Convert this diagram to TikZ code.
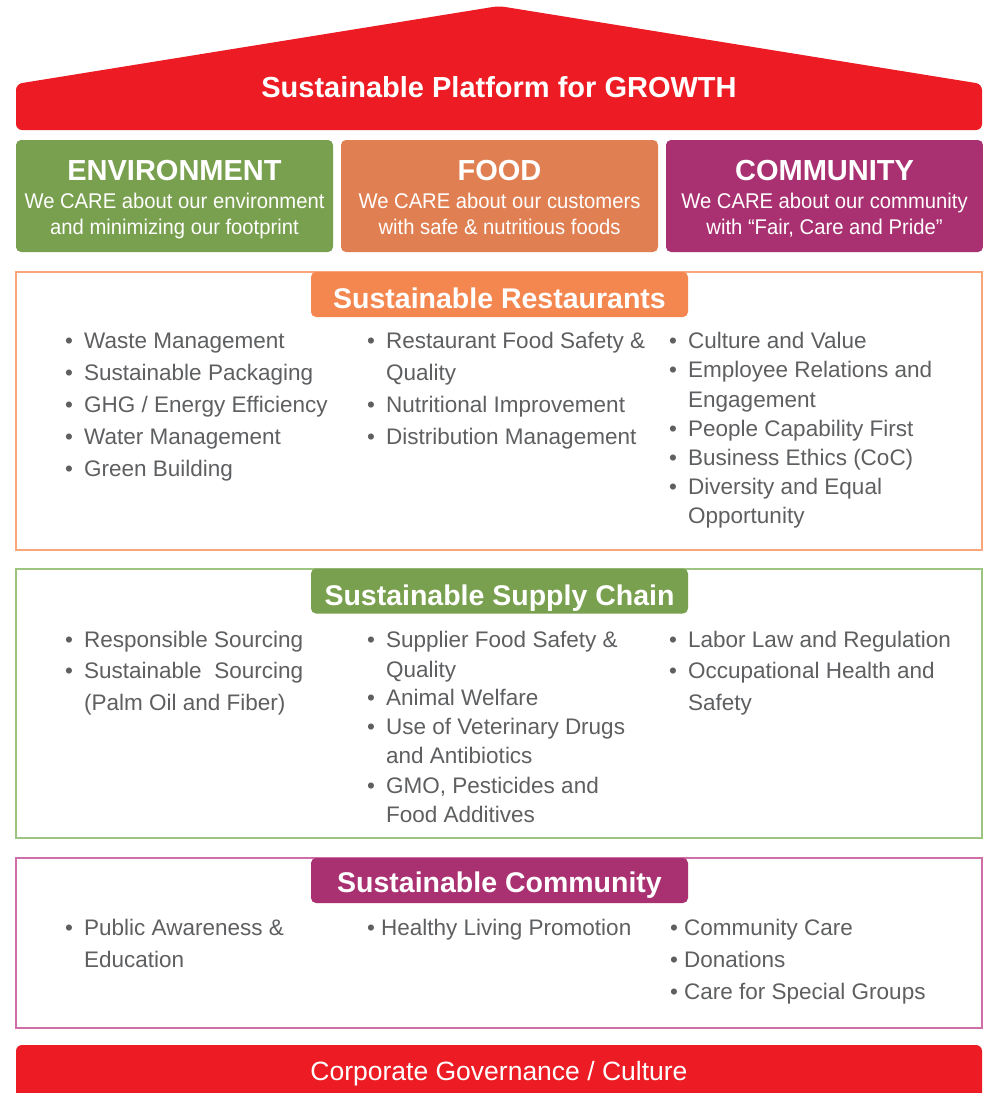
\documentclass[tikz,border=0pt]{standalone}
\usepackage{fontspec}
\setmainfont{Liberation Sans}
\newfontfamily\subfont[FakeStretch=0.95]{Liberation Sans}
\definecolor{cred}{HTML}{ED1C24}
\definecolor{cgreen}{HTML}{79A04F}
\definecolor{cfood}{HTML}{E07F52}
\definecolor{cpurple}{HTML}{AA3171}
\definecolor{ctabor}{HTML}{F4874F}
\definecolor{cbordor}{HTML}{F9A77A}
\definecolor{cbordgr}{HTML}{9EC482}
\definecolor{cbordpu}{HTML}{CF6FA8}
\definecolor{cgreytxt}{HTML}{5E5F61}
\newcommand\mkbul[5]{\node[itemtxt] (#1) at (#2,#3) {\makebox[#4][l]{\textbullet}#5};}
\newcommand\mkcont[4]{\node[itemtxt] (#1) at (#2,#3) {#4};}
\begin{document}
\begin{tikzpicture}[x=1pt,y=-1pt,
  itemtxt/.style={anchor=base west,inner sep=0pt,text=cgreytxt,font=\fontsize{22.5}{27}\selectfont},
  catbox/.style={rectangle,rounded corners=5pt,minimum width=317pt,minimum height=112pt,inner sep=0pt},
  cattitle/.style={anchor=base,inner sep=0pt,text=white,font=\fontsize{29}{34}\selectfont\bfseries},
  catsub/.style={anchor=base,inner sep=0pt,text=white,font=\subfont\fontsize{21.3}{25}\selectfont},
  secbox/.style={rectangle,line width=1.2pt,minimum width=966pt,inner sep=0pt,fill=white},
  tabbox/.style={rectangle,rounded corners=5pt,minimum width=377pt,minimum height=45pt,inner sep=0pt},
  tabtxt/.style={anchor=base,inner sep=0pt,text=white,font=\fontsize{28.5}{33}\selectfont\bfseries}]
\useasboundingbox (0,0) rectangle (983,1093);
\fill[white] (0,0) rectangle (983,1093);
% roof
\fill[cred,rounded corners=6pt] (16,130) -- (16,84) -- (499,6) -- (982,84) -- (982,130) -- cycle;
\node[anchor=base,inner sep=0pt,text=white,font=\fontsize{29}{34}\selectfont\bfseries] (roof) at (499,97) {Sustainable Platform for GROWTH};
% category boxes
\node[catbox,fill=cgreen] (env) at (174.5,196) {};
\node[catbox,fill=cfood] (food) at (499.5,196) {};
\node[catbox,fill=cpurple] (comm) at (824.5,196) {};
\node[cattitle] (envT) at (174.5,180) {ENVIRONMENT};
\node[catsub] (envS1) at (174.5,208) {We CARE about our environment};
\node[catsub] (envS2) at (174.5,234) {and minimizing our footprint};
\node[cattitle] (foodT) at (499.5,180) {FOOD};
\node[catsub] (foodS1) at (499.5,208) {We CARE about our customers};
\node[catsub] (foodS2) at (499.5,234) {with safe \& nutritious foods};
\node[cattitle] (commT) at (824.5,180) {COMMUNITY};
\node[catsub] (commS1) at (824.5,208) {We CARE about our community};
\node[catsub] (commS2) at (824.5,234) {with “Fair, Care and Pride”};
% section boxes
\node[secbox,draw=cbordor,minimum height=278pt] (rbox) at (499,411) {};
\node[secbox,draw=cbordgr,minimum height=269pt] (sbox) at (499,703.5) {};
\node[secbox,draw=cbordpu,minimum height=170pt] (cbox) at (499,943) {};
\node[tabbox,fill=ctabor] (rtab) at (499.5,294.5) {};
\node[tabtxt] (rtabT) at (499.5,308) {Sustainable Restaurants};
\node[tabbox,fill=cgreen] (stab) at (499.5,591) {};
\node[tabtxt] (stabT) at (499.5,605) {Sustainable Supply Chain};
\node[tabbox,fill=cpurple] (ctab) at (499.5,880.5) {};
\node[tabtxt] (ctabT) at (499.5,892) {Sustainable Community};
% restaurants items
\mkbul{ra1}{65}{348}{19pt}{Waste Management}
\mkbul{ra2}{65}{380}{19pt}{Sustainable Packaging}
\mkbul{ra3}{65}{412}{19pt}{GHG / Energy Efficiency}
\mkbul{ra4}{65}{444}{19pt}{Water Management}
\mkbul{ra5}{65}{476}{19pt}{Green Building}
\mkbul{rb1}{367}{348}{19pt}{Restaurant Food Safety \&}
\mkcont{rb1c}{386}{380}{Quality}
\mkbul{rb2}{367}{412}{19pt}{Nutritional Improvement}
\mkbul{rb3}{367}{444}{19pt}{Distribution Management}
\mkbul{rc1}{669}{348}{19pt}{Culture and Value}
\mkbul{rc2}{669}{377}{19pt}{Employee Relations and}
\mkcont{rc2c}{688}{407}{Engagement}
\mkbul{rc3}{669}{436}{19pt}{People Capability First}
\mkbul{rc4}{669}{465}{19pt}{Business Ethics (CoC)}
\mkbul{rc5}{669}{494}{19pt}{Diversity and Equal}
\mkcont{rc5c}{688}{523}{Opportunity}
% supply chain items
\mkbul{sa1}{65}{647}{19pt}{Responsible Sourcing}
\mkbul{sa2}{65}{678}{19pt}{Sustainable\ \ Sourcing}
\mkcont{sa2c}{84}{710}{(Palm Oil and Fiber)}
\mkbul{sb1}{367}{647}{19pt}{Supplier Food Safety \&}
\mkcont{sb1c}{386}{677}{Quality}
\mkbul{sb2}{367}{705}{19pt}{Animal Welfare}
\mkbul{sb3}{367}{734}{19pt}{Use of Veterinary Drugs}
\mkcont{sb3c}{386}{763}{and Antibiotics}
\mkbul{sb4}{367}{793}{19pt}{GMO, Pesticides and}
\mkcont{sb4c}{386}{822}{Food Additives}
\mkbul{sc1}{669}{647}{19pt}{Labor Law and Regulation}
\mkbul{sc2}{669}{678}{19pt}{Occupational Health and}
\mkcont{sc2c}{688}{710}{Safety}
% community items
\mkbul{ca1}{65}{935}{19pt}{Public Awareness \&}
\mkcont{ca1c}{84}{967}{Education}
\mkbul{cb1}{367}{935}{14pt}{Healthy Living Promotion}
\mkbul{cc1}{670}{935}{14pt}{Community Care}
\mkbul{cc2}{670}{967}{14pt}{Donations}
\mkbul{cc3}{670}{999}{14pt}{Care for Special Groups}
% governance band
\fill[cred,rounded corners=6pt] (16,1110) -- (16,1045) -- (982,1045) -- (982,1110) -- cycle;
\node[anchor=base,inner sep=0pt,text=white,font=\fontsize{26.5}{31}\selectfont] (gov) at (499,1080) {Corporate Governance / Culture};
\end{tikzpicture}
\end{document}
